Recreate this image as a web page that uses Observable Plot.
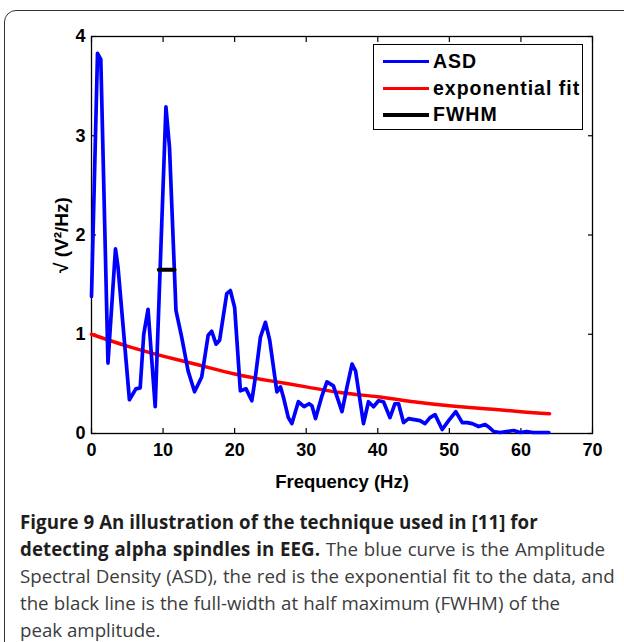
<!DOCTYPE html>
<html>
<head>
<meta charset="utf-8">
<script src="https://cdn.jsdelivr.net/npm/d3@7"></script>
<script src="https://cdn.jsdelivr.net/npm/@observablehq/plot@0.6"></script>
<style>
  html, body { margin: 0; padding: 0; background: #fff; width: 624px; height: 642px; overflow: hidden; }
  #frame { position: absolute; left: 4px; top: 10px; width: 640px; height: 680px; border: 1.5px solid #333; border-radius: 12px; }
  #chart { position: absolute; left: 0; top: 0; }
  #legend { position: absolute; left: 373px; top: 44px; width: 208px; height: 84px; border: 1.3px solid #000; background: #fff;
            font-family: "Liberation Sans", Arial, sans-serif; font-weight: bold; font-size: 19.5px; letter-spacing: 1px; color: #000; }
  .item { position: absolute; left: 0; height: 20px; }
  .sw { position: absolute; left: 9px; width: 46px; height: 4px; }
  .lt { position: absolute; left: 59px; top: -1px; white-space: nowrap; line-height: 20px; }
  #caption { position: absolute; left: 20px; top: 508px; font-family: "Open Sans", sans-serif; font-size: 18.7px; line-height: 27px;
             white-space: nowrap; color: #3c3c3c; }
  #caption b { color: #1e1e1e; font-weight: 700; letter-spacing: 0.05px; }
</style>
</head>
<body>
<div id="frame"></div>
<div id="chart"></div>
<div id="legend"></div>
<div id="caption"></div>
<script>
const freq = [0, 0.84, 1.3, 2.3, 3.35, 3.7, 5.3, 6.2, 6.8, 7.3, 7.9, 8.9, 10.4, 10.9, 11.8, 12.6, 13.5, 14.4, 15.4, 16.3,
  16.8, 17.4, 17.9, 18.9, 19.4, 20.0, 20.8, 21.6, 22.4, 22.9, 23.6, 24.3, 24.9, 25.9, 26.4, 26.8, 27.5, 28.0, 28.9, 29.7,
  30.4, 30.8, 31.3, 32.2, 32.9, 33.8, 35.0, 35.7, 36.4, 36.9, 38.0, 38.7, 39.4, 40.1, 40.8, 41.7, 42.4, 42.9, 43.6, 44.3,
  45.1, 45.9, 46.6, 47.3, 48.0, 49.0, 49.9, 50.9, 51.8, 52.5, 53.2, 54.1, 55.0, 55.6, 56.2, 57.1, 58.0, 59.0, 59.9, 60.8,
  61.7, 62.6, 63.9];
const asd = [1.38, 3.83, 3.77, 0.71, 1.86, 1.68, 0.34, 0.45, 0.46, 1.0, 1.25, 0.27, 3.29, 2.88, 1.24, 0.97, 0.63, 0.42, 0.57, 0.99,
  1.03, 0.90, 0.94, 1.41, 1.44, 1.27, 0.43, 0.45, 0.33, 0.57, 0.97, 1.12, 0.94, 0.42, 0.47, 0.37, 0.16, 0.10, 0.32, 0.27,
  0.30, 0.28, 0.15, 0.38, 0.52, 0.48, 0.22, 0.47, 0.70, 0.63, 0.10, 0.32, 0.27, 0.33, 0.32, 0.16, 0.30, 0.30, 0.11, 0.15,
  0.14, 0.13, 0.10, 0.16, 0.19, 0.04, 0.13, 0.22, 0.11, 0.11, 0.10, 0.07, 0.09, 0.06, 0.02, 0.01, 0.02, 0.03, 0.01, 0.02,
  0.01, 0.01, 0.01];
const fitFreq = [0, 5, 10, 15, 20, 25, 30, 35, 40, 45, 50, 55, 60, 64];
const fitVal  = [1.0, 0.88, 0.78, 0.69, 0.60, 0.53, 0.47, 0.41, 0.37, 0.32, 0.28, 0.25, 0.22, 0.20];
const fwhmFreq = [9.4, 11.6];
const fwhmVal = [1.65, 1.65];
const xTicks = [0, 10, 20, 30, 40, 50, 60, 70];
const yTicks = [0, 1, 2, 3, 4];
const seriesNames = ["ASD", "exponential fit", "FWHM"];
const seriesColors = ["#0000ff", "#ff0000", "#000000"];
const xLabel = "Frequency (Hz)";
const yLabel = "√ (V²/Hz)";

const asdData = freq.map((f, i) => ({f, v: asd[i]}));
const fitData = fitFreq.map((f, i) => ({f, v: fitVal[i]}));
const fwhmData = fwhmFreq.map((f, i) => ({f, v: fwhmVal[i]}));

const fmt = d => String(d);

const chart = Plot.plot({
  width: 624, height: 500,
  marginLeft: 91, marginRight: 32, marginTop: 36, marginBottom: 67,
  x: {domain: [0, 70]},
  y: {domain: [0, 4]},
  style: {fontFamily: "'Liberation Sans', Arial, sans-serif", fontWeight: "bold", fontSize: "18px", color: "#000", background: "transparent"},
  marks: [
    Plot.axisX(xTicks, {anchor: "bottom", tickSize: 0, tickPadding: 10, tickFormat: fmt, label: null}),
    Plot.axisX(xTicks, {anchor: "bottom", tickSize: 5, dy: -5, tickFormat: () => "", label: null, strokeWidth: 1.2}),
    Plot.axisX(xTicks, {anchor: "top", tickSize: 5, dy: 5, tickFormat: () => "", label: null, strokeWidth: 1.2}),
    Plot.axisY(yTicks, {anchor: "left", tickSize: 0, tickPadding: 6, tickFormat: fmt, label: null}),
    Plot.axisY(yTicks, {anchor: "left", tickSize: 5, dx: 5, tickFormat: () => "", label: null, strokeWidth: 1.2}),
    Plot.axisY(yTicks, {anchor: "right", tickSize: 5, dx: -5, tickFormat: () => "", label: null, strokeWidth: 1.2}),
    Plot.text([xLabel], {frameAnchor: "bottom", lineAnchor: "middle", dy: 49, fontSize: 18.5, fontWeight: "bold", letterSpacing: "0.9px"}),
    Plot.text([yLabel], {frameAnchor: "left", textAnchor: "middle", lineAnchor: "middle", dx: -30, rotate: -90, fontSize: 19, fontWeight: "bold", letterSpacing: "0.8px"}),
    Plot.frame({stroke: "#000", strokeWidth: 1.3}),
    Plot.line(fitData, {x: "f", y: "v", stroke: seriesColors[1], strokeWidth: 3.5, curve: "natural"}),
    Plot.line(asdData, {x: "f", y: "v", stroke: seriesColors[0], strokeWidth: 3.7, strokeLinejoin: "round"}),
    Plot.line(fwhmData, {x: "f", y: "v", stroke: seriesColors[2], strokeWidth: 4})
  ]
});
document.getElementById("chart").appendChild(chart);

const legend = document.getElementById("legend");
seriesNames.forEach((name, i) => {
  const it = document.createElement("div");
  it.className = "item";
  it.style.top = (7 + i * 26.5) + "px";
  const sw = document.createElement("div");
  sw.className = "sw";
  sw.style.background = seriesColors[i];
  sw.style.top = "8px";
  sw.style.height = i === 2 ? "4px" : "3px";
  const t = document.createElement("div");
  t.className = "lt";
  t.textContent = name;
  it.appendChild(sw); it.appendChild(t);
  legend.appendChild(it);
});

const captionLines = [
  ["Figure 9 An illustration of the technique used in [11] for", "", 0],
  ["detecting alpha spindles in EEG.", " The blue curve is the Amplitude", 0.9],
  ["", "Spectral Density (ASD), the red is the exponential fit to the data, and", 0.4],
  ["", "the black line is the full-width at half maximum (FWHM) of the", 0.4],
  ["", "peak amplitude.", 0]
];
const cap = document.getElementById("caption");
captionLines.forEach(([b, r, ws]) => {
  const line = document.createElement("div");
  line.style.wordSpacing = ws + "px";
  if (b) { const e = document.createElement("b"); e.textContent = b; line.appendChild(e); }
  if (r) line.appendChild(document.createTextNode(r));
  cap.appendChild(line);
});
</script>
</body>
</html>
